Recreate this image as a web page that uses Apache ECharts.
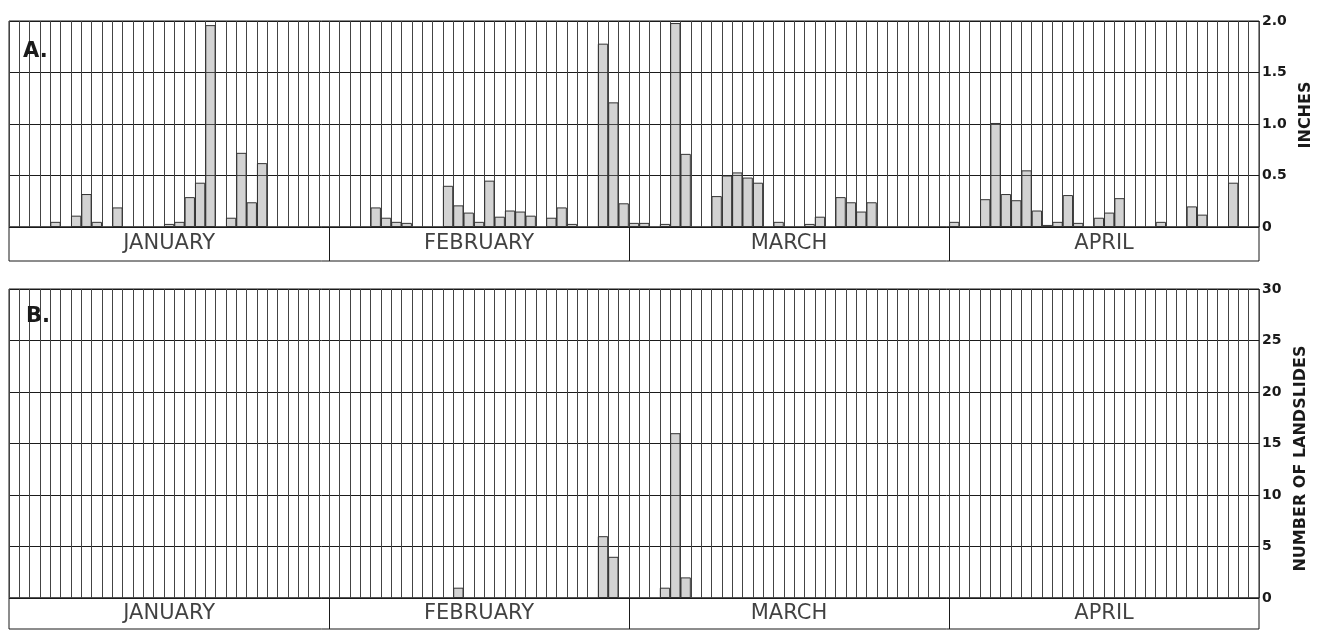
<!DOCTYPE html>
<html><head><meta charset="utf-8">
<script src="https://cdn.jsdelivr.net/npm/echarts@6/dist/echarts.min.js"></script>
<style>html,body{margin:0;padding:0;background:#fff}#c{width:1322px;height:632px}</style>
</head><body><div id="c"></div>
<script>
// ---- data ----
const monthNames = ['JANUARY', 'FEBRUARY', 'MARCH', 'APRIL'];
const monthDays = [31, 29, 31, 30];
// daily precipitation, inches
const precipJan = [0,0,0,0,0.05,0,0.11,0.32,0.05,0,0.19,0,0,0,0,0.03,0.05,0.29,0.43,1.96,0,0.09,0.72,0.24,0.62,0,0,0,0,0,0];
const precipFeb = [0,0,0,0,0.19,0.09,0.05,0.04,0,0,0,0.40,0.21,0.14,0.05,0.45,0.10,0.16,0.15,0.11,0,0.09,0.19,0.03,0,0,1.78,1.21,0.23];
const precipMar = [0.04,0.04,0,0.03,1.98,0.71,0,0,0.30,0.50,0.53,0.48,0.43,0,0.05,0,0,0.03,0.10,0,0.29,0.24,0.15,0.24,0,0,0,0,0,0,0];
const precipApr = [0.05,0,0,0.27,1.01,0.32,0.26,0.55,0.16,0.02,0.05,0.31,0.04,0,0.09,0.14,0.28,0,0,0,0.05,0,0,0.20,0.12,0,0,0.43,0,0];
// daily number of landslides
const slidesJan = [0,0,0,0,0,0,0,0,0,0,0,0,0,0,0,0,0,0,0,0,0,0,0,0,0,0,0,0,0,0,0];
const slidesFeb = [0,0,0,0,0,0,0,0,0,0,0,0,1,0,0,0,0,0,0,0,0,0,0,0,0,0,6,4,0];
const slidesMar = [0,0,0,1,16,2,0,0,0,0,0,0,0,0,0,0,0,0,0,0,0,0,0,0,0,0,0,0,0,0,0];
const slidesApr = [0,0,0,0,0,0,0,0,0,0,0,0,0,0,0,0,0,0,0,0,0,0,0,0,0,0,0,0,0,0];
// tick labels
const inchTicks = ['0', '0.5', '1.0', '1.5', '2.0'];
const slideTicks = ['0', '5', '10', '15', '20', '25', '30'];

// ---- derived ----
const days = [];
monthNames.forEach((m, i) => { for (let d = 1; d <= monthDays[i]; d++) days.push(m + ' ' + d); });
const precip = [].concat(precipJan, precipFeb, precipMar, precipApr).map(v => v === 0 ? '-' : v);
const slides = [].concat(slidesJan, slidesFeb, slidesMar, slidesApr).map(v => v === 0 ? '-' : v);
const totalDays = days.length;
const ends = [], mids = [];
let acc = 0;
monthDays.forEach(n => { mids.push(acc + n / 2); acc += n; ends.push(acc); });
const dividers = ends.slice(0, -1).map(x => ({ xAxis: x }));

const ink = '#1a1a1a';
const FONT = 'DejaVu Sans';
const L = 9, R = 63;

function dayAxis(gi) {
  return { gridIndex: gi, type: 'category', data: days, boundaryGap: true,
    axisLine: { show: false }, axisTick: { show: false }, axisLabel: { show: false },
    splitLine: { show: true, interval: 0, lineStyle: { color: '#444', width: 1 } } };
}
function bandX(gi) { return { gridIndex: gi, type: 'value', min: 0, max: totalDays, show: false }; }
function bandY(gi) { return { gridIndex: gi, type: 'value', min: 0, max: 1, show: false }; }
function bandSeries(xi) {
  return {
    type: 'scatter', xAxisIndex: xi, yAxisIndex: xi, symbolSize: 1, silent: true,
    itemStyle: { color: 'rgba(0,0,0,0)' },
    label: { show: true, position: 'inside', formatter: p => p.name,
      fontFamily: FONT, fontSize: 21, color: '#111' },
    data: monthNames.map((n, i) => ({ name: n, value: [mids[i], 0.5] })),
    markLine: { silent: true, symbol: ['none', 'none'], label: { show: false },
      lineStyle: { type: 'solid', color: ink, width: 1 }, data: dividers }
  };
}
const labelStyle = { fontFamily: FONT, fontSize: 14, fontWeight: 'bold', color: ink, margin: 3 };
const barStyle = { color: 'rgba(140,140,140,0.38)', borderColor: '#333', borderWidth: 1 };

const option = {
  animation: false,
  backgroundColor: '#fff',
  title: [
    { text: 'A.', left: 18, top: 36, textStyle: { fontFamily: FONT, fontWeight: 'bold', fontSize: 21, color: ink } },
    { text: 'B.', left: 21, top: 301, textStyle: { fontFamily: FONT, fontWeight: 'bold', fontSize: 21, color: ink } }
  ],
  grid: [
    { left: L, right: R, top: 21, height: 206, show: true, borderColor: ink, borderWidth: 1 },
    { left: L, right: R, top: 227, height: 34, show: true, borderColor: ink, borderWidth: 1 },
    { left: L, right: R, top: 289, height: 309, show: true, borderColor: ink, borderWidth: 1 },
    { left: L, right: R, top: 598, height: 31, show: true, borderColor: ink, borderWidth: 1 }
  ],
  xAxis: [dayAxis(0), bandX(1), dayAxis(2), bandX(3)],
  yAxis: [
    { gridIndex: 0, type: 'value', position: 'right', min: 0, max: 2, interval: 0.5,
      axisLine: { show: false }, axisTick: { show: false },
      axisLabel: Object.assign({ formatter: v => inchTicks[Math.round(v / 0.5)] }, labelStyle),
      splitLine: { show: true, lineStyle: { color: ink, width: 1 } },
      name: 'INCHES', nameLocation: 'middle', nameRotate: 90, nameGap: 24,
      nameTextStyle: { fontFamily: FONT, fontSize: 16, fontWeight: 'bold', color: ink, padding: [0, 0, 0, 18] } },
    bandY(1),
    { gridIndex: 2, type: 'value', position: 'right', min: 0, max: 30, interval: 5,
      axisLine: { show: false }, axisTick: { show: false },
      axisLabel: Object.assign({ formatter: v => slideTicks[Math.round(v / 5)] }, labelStyle),
      splitLine: { show: true, lineStyle: { color: ink, width: 1 } },
      name: 'NUMBER OF LANDSLIDES', nameLocation: 'middle', nameRotate: 90, nameGap: 24,
      nameTextStyle: { fontFamily: FONT, fontSize: 16, fontWeight: 'bold', color: ink, padding: [0, 30, 0, 0] } },
    bandY(3)
  ],
  series: [
    { type: 'bar', xAxisIndex: 0, yAxisIndex: 0, data: precip, barCategoryGap: '0%', itemStyle: barStyle, silent: true },
    bandSeries(1),
    { type: 'bar', xAxisIndex: 2, yAxisIndex: 2, data: slides, barCategoryGap: '0%', itemStyle: barStyle, silent: true },
    bandSeries(3)
  ]
};
const chart = echarts.init(document.getElementById('c'), null, { renderer: 'canvas' });
chart.setOption(option);
</script>
</body></html>
